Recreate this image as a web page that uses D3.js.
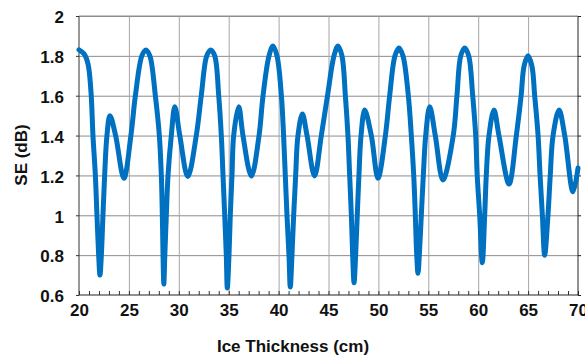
<!DOCTYPE html>
<html>
<head>
<meta charset="utf-8">
<script src="https://cdn.jsdelivr.net/npm/d3@7"></script>
<style>
  html, body { margin: 0; padding: 0; background: #fff; }
  svg { display: block; }
  text { font-family: "Liberation Sans", Arial, sans-serif; font-weight: bold; fill: #111; }
</style>
</head>
<body>
<svg id="chart" width="585" height="363"></svg>
<script>
// Ice thickness (cm) and shielding effectiveness SE (dB)
const thickness = [
  20.0, 20.5, 20.9, 21.2, 21.4, 21.64, 21.8, 21.97, 22.1, 22.24, 22.4, 22.57, 22.8, 23.1, 23.67, 24.5, 25.2, 25.65, 26.3, 26.7,
  27.1, 27.65, 28.05, 28.25, 28.35, 28.42, 28.5, 28.6, 28.75, 28.92, 29.25, 29.6, 30.1, 30.9, 31.75, 32.25, 32.8, 33.2,
  33.6, 34.0, 34.26, 34.43, 34.6, 34.76, 34.86, 35.03, 35.16, 35.33, 35.5, 36.0, 36.43, 37.27, 38.04, 38.44, 39.04, 39.44,
  39.84, 40.28, 40.5, 40.67, 40.84, 41.04, 41.17, 41.34, 41.51, 41.71, 41.94, 42.38, 42.85, 43.6, 44.28, 44.9, 45.55, 45.95,
  46.35, 46.69, 46.95, 47.12, 47.29, 47.42, 47.56, 47.72, 47.88, 48.05, 48.26, 48.63, 49.29, 49.96, 50.7, 51.13, 51.66, 52.06,
  52.46, 53.0, 53.3, 53.54, 53.7, 53.84, 53.97, 54.1, 54.3, 54.5, 54.74, 55.14, 55.7, 56.47, 57.5, 57.87, 58.25, 58.65,
  59.05, 59.45, 59.75, 59.9, 60.15, 60.41, 60.65, 60.81, 61.08, 61.58, 62.08, 63.09, 63.82, 64.3, 64.6, 64.99,
  65.38, 65.66, 66.0, 66.2, 66.43, 66.66, 66.99, 67.22, 67.5, 68.1, 68.67, 69.5, 70.0
];
const seDb = [
  1.83, 1.81, 1.76, 1.62, 1.40, 1.20, 1.00, 0.80, 0.70, 0.80, 1.00, 1.20, 1.40, 1.50, 1.40, 1.186, 1.40, 1.60, 1.80, 1.83,
  1.80, 1.60, 1.40, 1.20, 1.00, 0.80, 0.655, 0.80, 1.00, 1.20, 1.40, 1.545, 1.40, 1.194, 1.40, 1.60, 1.80, 1.83,
  1.80, 1.60, 1.40, 1.20, 1.00, 0.80, 0.635, 0.80, 1.00, 1.20, 1.40, 1.545, 1.40, 1.197, 1.40, 1.60, 1.80, 1.85,
  1.80, 1.60, 1.40, 1.20, 1.00, 0.80, 0.64, 0.80, 1.00, 1.20, 1.40, 1.508, 1.40, 1.197, 1.40, 1.60, 1.80, 1.85,
  1.80, 1.60, 1.40, 1.20, 1.00, 0.80, 0.662, 0.80, 1.00, 1.20, 1.40, 1.528, 1.40, 1.186, 1.40, 1.60, 1.80, 1.84,
  1.80, 1.60, 1.40, 1.20, 1.00, 0.80, 0.709, 0.80, 1.00, 1.20, 1.40, 1.545, 1.40, 1.177, 1.40, 1.60, 1.80, 1.84,
  1.80, 1.60, 1.40, 1.20, 1.00, 0.762, 1.00, 1.20, 1.40, 1.528, 1.40, 1.157, 1.40, 1.60, 1.75, 1.80,
  1.75, 1.60, 1.40, 1.20, 1.00, 0.80, 1.00, 1.20, 1.40, 1.528, 1.40, 1.118, 1.237
];
const xTicks = [20, 25, 30, 35, 40, 45, 50, 55, 60, 65, 70];
const xMinorTicks = d3.range(20, 71, 1);
const yTicks = [0.6, 0.8, 1, 1.2, 1.4, 1.6, 1.8, 2];
const xTitle = "Ice Thickness (cm)";
const yTitle = "SE (dB)";

const svg = d3.select("#chart");
const W = 585, H = 363;
const m = { left: 79, top: 16, right: 7, bottom: 68 };
const pw = W - m.left - m.right, ph = H - m.top - m.bottom;

const x = d3.scaleLinear().domain([20, 70]).range([m.left, m.left + pw]);
const y = d3.scaleLinear().domain([0.6, 2]).range([m.top + ph, m.top]);

const g = svg.append("g");

// horizontal gridlines
g.append("g")
  .attr("transform", `translate(${m.left},0)`)
  .call(d3.axisLeft(y).tickValues(yTicks.filter(v => v > 0.6)).tickSize(-pw).tickFormat(""))
  .call(s => s.select(".domain").remove())
  .call(s => s.selectAll("line").attr("stroke", "#8c8c8c").attr("stroke-width", 1));

// vertical gridlines
g.append("g")
  .attr("transform", `translate(0,${m.top + ph})`)
  .call(d3.axisBottom(x).tickValues(xTicks.filter(v => v > 20 && v < 70)).tickSize(-ph).tickFormat(""))
  .call(s => s.select(".domain").remove())
  .call(s => s.selectAll("line").attr("stroke", "#a6a6a6").attr("stroke-width", 1));

// minor ticks on bottom axis (inside)
g.append("g")
  .attr("transform", `translate(0,${m.top + ph})`)
  .call(d3.axisBottom(x).tickValues(xMinorTicks).tickSize(-4).tickFormat(""))
  .call(s => s.select(".domain").remove())
  .call(s => s.selectAll("line").attr("stroke", "#333"));

// left axis with labels
const yAxis = g.append("g")
  .attr("transform", `translate(${m.left},0)`)
  .call(d3.axisLeft(y).tickValues(yTicks).tickSize(3).tickPadding(12).tickFormat(d3.format("~g")));
yAxis.select(".domain").attr("stroke", "#333").attr("d", `M0,${m.top}V${m.top + ph}`);
yAxis.selectAll("line").attr("stroke", "#333");
yAxis.selectAll("text").style("font-size", "17px").attr("dy", "0.4em").attr("fill", "#111");

// right axis
const yAxisR = g.append("g")
  .attr("transform", `translate(${m.left + pw},0)`)
  .call(d3.axisRight(y).tickValues(yTicks).tickSize(3).tickFormat(""));
yAxisR.select(".domain").attr("stroke", "#222").attr("d", `M0,${m.top}V${m.top + ph}`);
yAxisR.selectAll("line").attr("stroke", "#222");

// bottom axis with labels
const xAxis = g.append("g")
  .attr("transform", `translate(0,${m.top + ph})`)
  .call(d3.axisBottom(x).tickValues(xTicks).tickSize(0).tickPadding(9).tickFormat(d3.format("d")));
xAxis.select(".domain").attr("stroke", "#222").attr("d", `M${m.left},0H${m.left + pw}`);
xAxis.selectAll("text").style("font-size", "17px").attr("fill", "#111");

// top border (gray, gridline at 2)
g.append("line")
  .attr("x1", m.left).attr("x2", m.left + pw)
  .attr("y1", y(2)).attr("y2", y(2))
  .attr("stroke", "#8c8c8c");

// data line
const pts = thickness.map((t, i) => [t, seDb[i]]);
g.append("path")
  .datum(pts)
  .attr("fill", "none")
  .attr("stroke", "#0070c0")
  .attr("stroke-width", 5)
  .attr("stroke-linejoin", "round")
  .attr("stroke-linecap", "round")
  .attr("d", d3.line().x(d => x(d[0])).y(d => y(d[1])).curve(d3.curveCatmullRom.alpha(0.5)));

// axis titles
svg.append("text")
  .attr("x", 293).attr("y", 352)
  .attr("text-anchor", "middle")
  .style("font-size", "17px")
  .text(xTitle);

svg.append("text")
  .attr("transform", `translate(27,155) rotate(-90)`)
  .attr("text-anchor", "middle")
  .style("font-size", "17px")
  .text(yTitle);
</script>
</body>
</html>
